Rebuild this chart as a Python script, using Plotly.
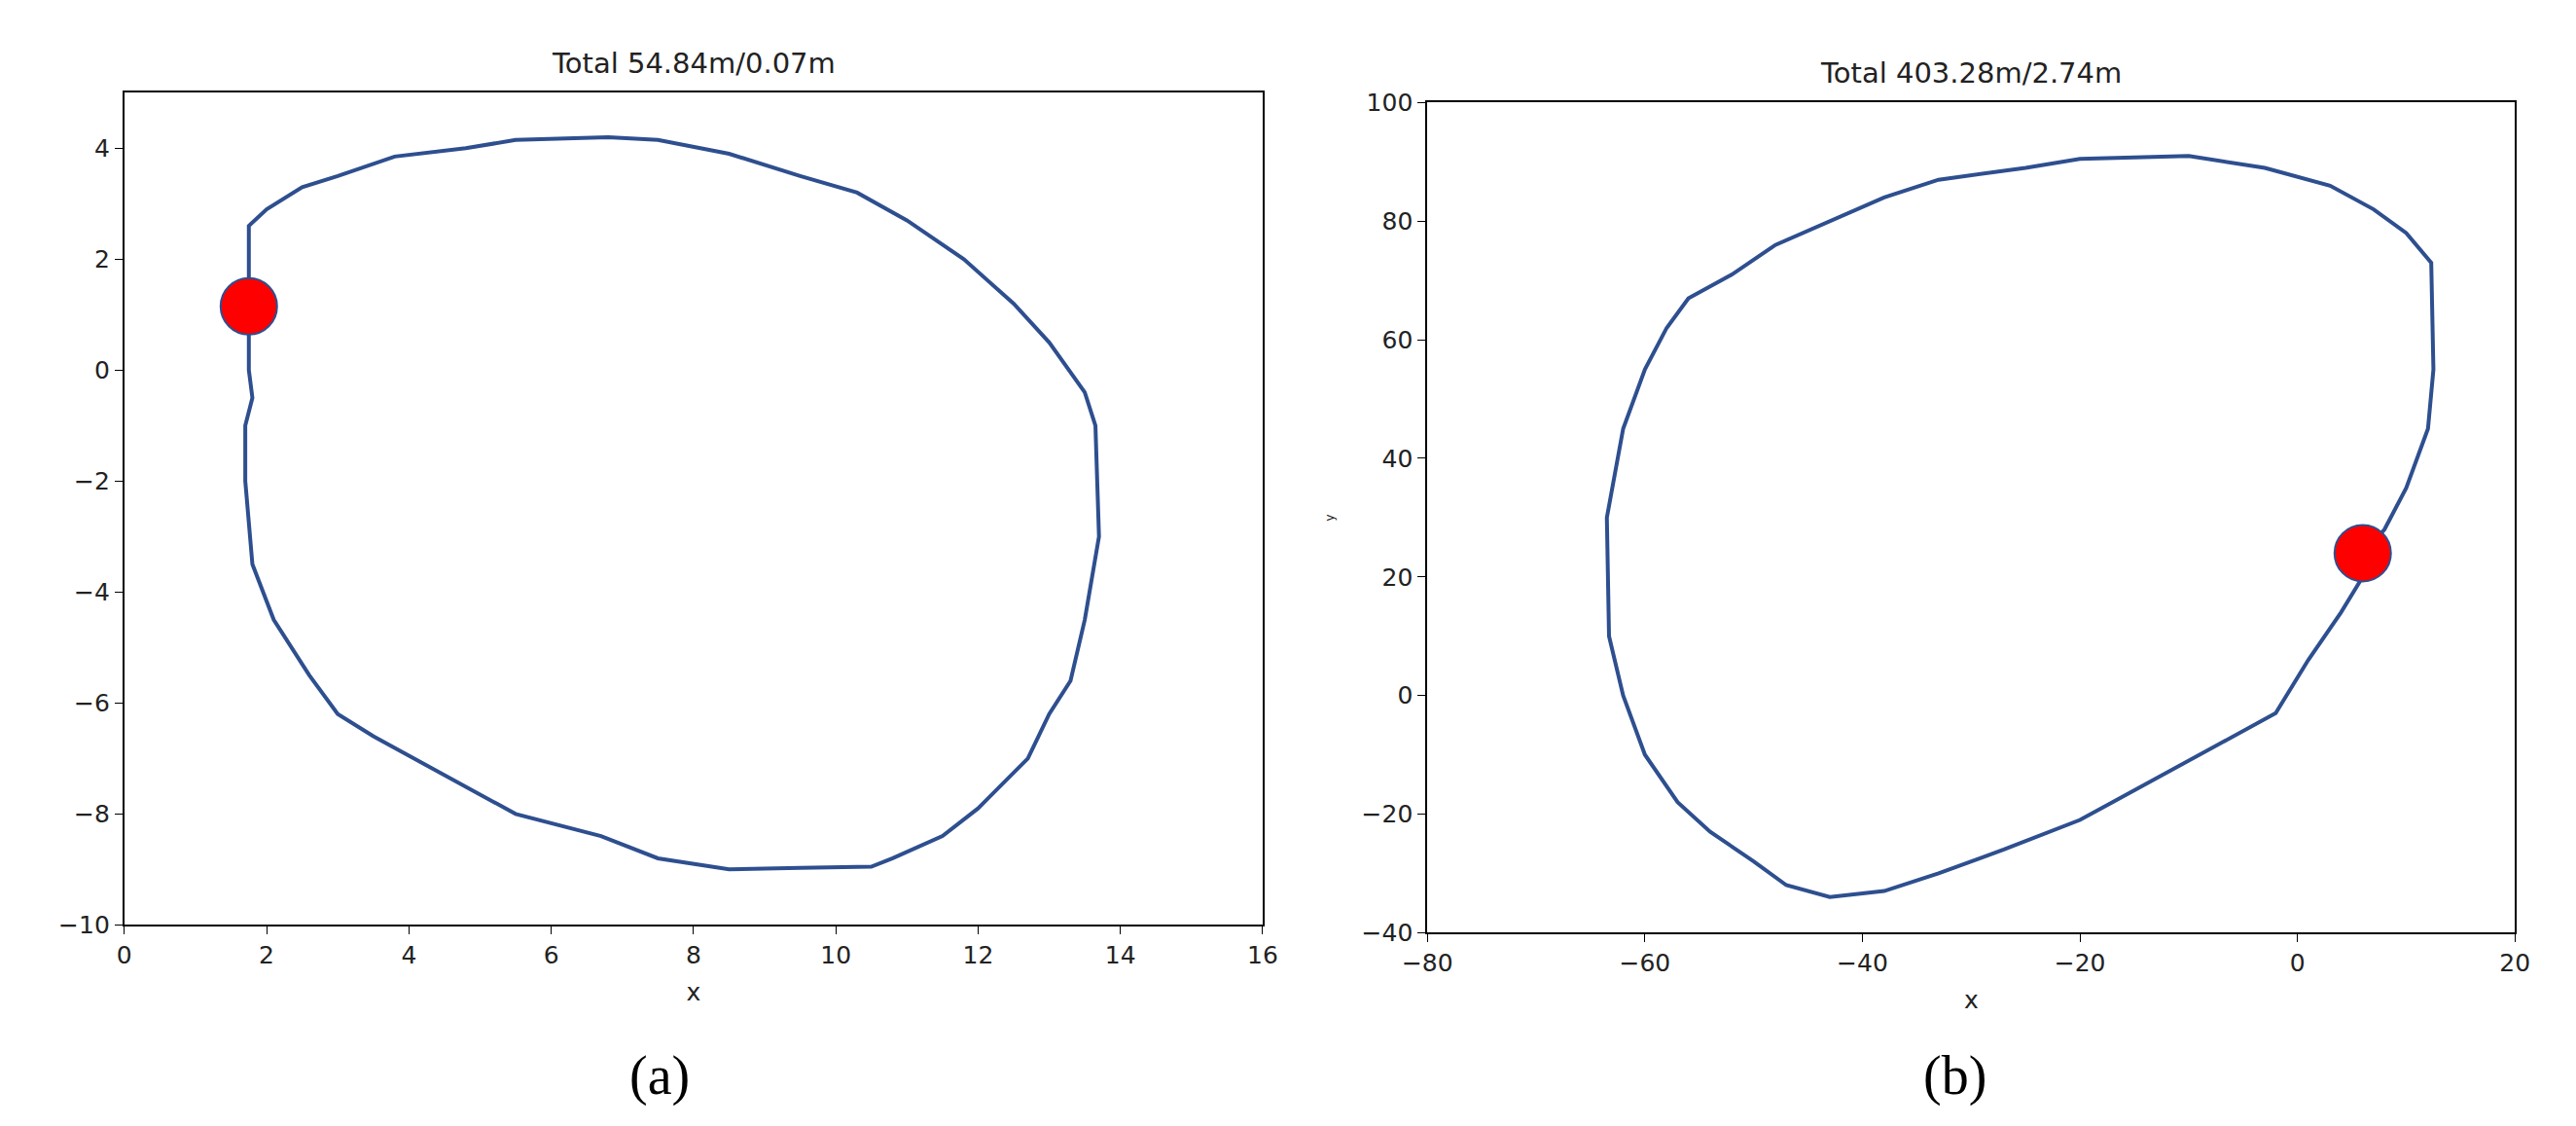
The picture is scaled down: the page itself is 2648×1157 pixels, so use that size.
import plotly.graph_objects as go

ax = [1.75,1.75,2.0,2.5,3.0,3.8,4.8,5.5,6.8,7.5,8.5,9.5,10.3,11.0,11.8,12.5,13.0,13.5,13.65,13.7,13.5,13.3,13.0,12.7,12.0,11.5,10.8,10.5,9.5,8.5,7.5,6.7,5.5,4.5,3.5,3.0,2.6,2.1,1.8,1.7,1.7,1.8,1.75,1.75]
ay = [1.15,2.6,2.9,3.3,3.5,3.85,4.0,4.15,4.2,4.15,3.9,3.5,3.2,2.7,2.0,1.2,0.5,-0.4,-1.0,-3.0,-4.5,-5.6,-6.2,-7.0,-7.9,-8.4,-8.8,-8.95,-8.97,-9.0,-8.8,-8.4,-8.0,-7.3,-6.6,-6.2,-5.5,-4.5,-3.5,-2.0,-1.0,-0.5,0.0,1.15]
bx = [6,8,10,12,12.5,12.3,10,7,3,-3,-10,-20,-25,-33,-38,-43,-48,-52,-56,-58,-60,-62,-63,-63.5,-63.3,-62,-60,-57,-54,-50,-47,-43,-38,-33,-27,-20,-17,-12,-6,-2,1,4,6,6]
by = [24,28,35,45,55,73,78,82,86,89,91,90.5,89,87,84,80,76,71,67,62,55,45,35,30,10,0,-10,-18,-23,-28,-32,-34,-33,-30,-26,-21,-18,-13,-7,-3,6,14,20,24]
start_a = (1.75, 1.15)
start_b = (6, 24)

line = dict(color="#2e4f8f", width=4)
fig = go.Figure()
fig.add_trace(go.Scatter(x=ax, y=ay, mode="lines", line=line, xaxis="x", yaxis="y", showlegend=False))
fig.add_trace(go.Scatter(x=[start_a[0]], y=[start_a[1]], mode="markers", xaxis="x", yaxis="y", showlegend=False,
                         marker=dict(size=58, color="red", line=dict(color="#2e4f8f", width=2))))
fig.add_trace(go.Scatter(x=bx, y=by, mode="lines", line=line, xaxis="x2", yaxis="y2", showlegend=False))
fig.add_trace(go.Scatter(x=[start_b[0]], y=[start_b[1]], mode="markers", xaxis="x2", yaxis="y2", showlegend=False,
                         marker=dict(size=58, color="red", line=dict(color="#2e4f8f", width=2))))

axcommon = dict(showgrid=False, zeroline=False, showline=True, linecolor="black", linewidth=2, mirror=True,
                ticks="outside", ticklen=8, tickcolor="black", tickfont=dict(size=25, color="#222"))
fig.update_layout(
    width=2648, height=1157, paper_bgcolor="white", plot_bgcolor="white",
    margin=dict(l=0, r=0, t=0, b=0), font=dict(family="DejaVu Sans", color="#222"),
    xaxis=dict(domain=[0.036, 0.485], range=[0, 16], dtick=2, anchor="y",
               title=dict(text="x", font=dict(size=25)), **axcommon),
    yaxis=dict(domain=[0.177, 0.935], range=[-10, 5], tickvals=[-10,-8,-6,-4,-2,0,2,4], anchor="x", **axcommon),
    xaxis2=dict(domain=[0.550, 0.979], range=[-80, 20], dtick=20, anchor="y2",
                title=dict(text="x", font=dict(size=25)), **axcommon),
    yaxis2=dict(domain=[0.170, 0.926], range=[-40, 100], dtick=20, anchor="x2",
                title=dict(text="y", font=dict(size=12), standoff=25), **axcommon),
    annotations=[
        dict(text="Total 54.84m/0.07m", x=0.2605, y=0.945, xref="paper", yref="paper", showarrow=False,
             xanchor="center", yanchor="bottom", font=dict(size=29, color="#222")),
        dict(text="Total 403.28m/2.74m", x=0.7645, y=0.936, xref="paper", yref="paper", showarrow=False,
             xanchor="center", yanchor="bottom", font=dict(size=29, color="#222")),
        dict(text="(a)", x=0.247, y=0.01, xref="paper", yref="paper", showarrow=False,
             xanchor="center", yanchor="bottom", font=dict(size=56, family="Liberation Serif", color="black")),
        dict(text="(b)", x=0.758, y=0.01, xref="paper", yref="paper", showarrow=False,
             xanchor="center", yanchor="bottom", font=dict(size=56, family="Liberation Serif", color="black")),
    ],
)
fig.write_html("out.html")
